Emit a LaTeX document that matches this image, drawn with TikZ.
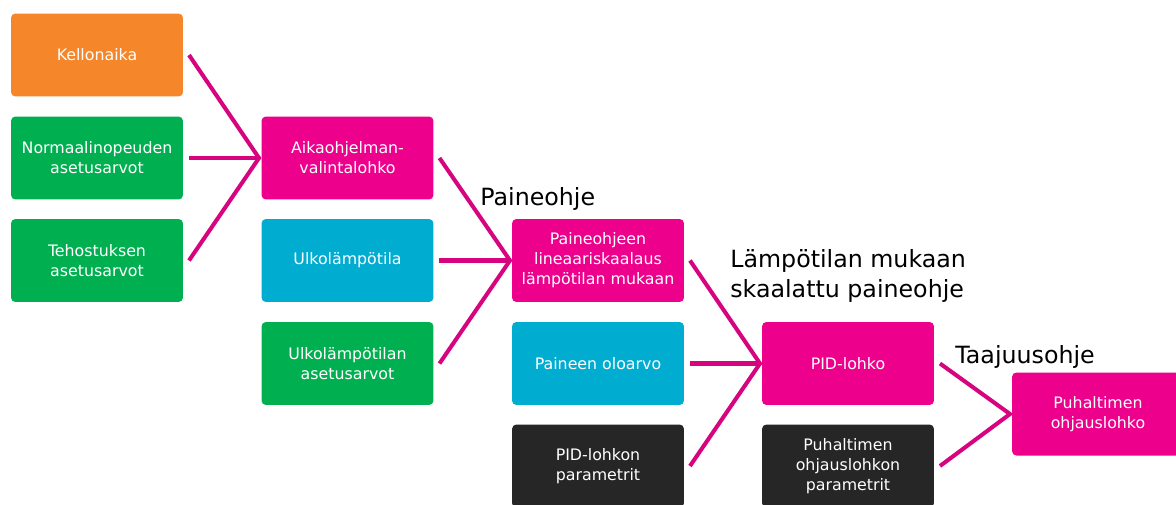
\documentclass[tikz,border=0pt]{standalone}
\usepackage{fontspec}
\setmainfont{DejaVu Sans}
\definecolor{kello}{HTML}{F5862A}
\definecolor{vihrea}{HTML}{00B050}
\definecolor{magenta}{HTML}{EC008C}
\definecolor{syaani}{HTML}{00ACD0}
\definecolor{tumma}{HTML}{262626}
\definecolor{viiva}{HTML}{D6047F}
\tikzset{
  lohko/.style={rounded corners=2.5pt, minimum width=3.44cm, minimum height=1.66cm,
    inner sep=0pt, outer xsep=0.12cm, align=center, text=white,
    font=\fontsize{9}{11.4}\selectfont},
  ohje/.style={anchor=base west, inner sep=0pt, align=left,
    font=\fontsize{13.5}{17}\selectfont},
  yhteys/.style={viiva, line width=2.3pt}
}
\begin{document}
\begin{tikzpicture}[x=0.02cm, y=-0.02cm]
  \useasboundingbox (0,0) rectangle (1176,504);

  % Sarake 1
  \node[lohko, fill=kello] (kello) at (97,55) {Kellonaika};
  \node[lohko, fill=vihrea] (normaali) at (97,158) {Normaalinopeuden\\asetusarvot};
  \node[lohko, fill=vihrea] (tehostus) at (97,260.5) {Tehostuksen\\asetusarvot};

  % Sarake 2
  \node[lohko, fill=magenta] (aika) at (347.5,158) {Aikaohjelman-\\valintalohko};
  \node[lohko, fill=syaani] (ulko) at (347.5,260.5) {Ulkolämpötila};
  \node[lohko, fill=vihrea] (ulkoaset) at (347.5,363.5) {Ulkolämpötilan\\asetusarvot};

  % Sarake 3
  \node[lohko, fill=magenta] (skaalaus) at (598,260.5) {Paineohjeen\\lineaariskaalaus\\lämpötilan mukaan};
  \node[lohko, fill=syaani] (oloarvo) at (598,363.5) {Paineen oloarvo};
  \node[lohko, fill=tumma] (pidpar) at (598,466) {PID-lohkon\\parametrit};

  % Sarake 4
  \node[lohko, fill=magenta] (pid) at (848,363.5) {PID-lohko};
  \node[lohko, fill=tumma] (puhpar) at (848,466) {Puhaltimen\\ohjauslohkon\\parametrit};

  % Sarake 5
  \node[lohko, fill=magenta] (puhallin) at (1098,414) {Puhaltimen\\ohjauslohko};

  % Yhtymakohdat
  \coordinate (y1) at (259,158);
  \coordinate (y2) at (510,260.5);
  \coordinate (y3) at (760,363.5);
  \coordinate (y4) at (1010,414);

  \draw[yhteys] (kello.east) -- (y1) -- (tehostus.east);
  \draw[yhteys] (normaali.east) -- (y1);
  \draw[yhteys] (aika.east) -- (y2) -- (ulkoaset.east);
  \draw[yhteys] (ulko.east) -- (y2);
  \draw[yhteys] (skaalaus.east) -- (y3) -- (pidpar.east);
  \draw[yhteys] (oloarvo.east) -- (y3);
  \draw[yhteys] (pid.east) -- (y4) -- (puhpar.east);

  % Ohjeet
  \node[ohje] (paineohje) at (480,205) {Paineohje};
  \node[ohje] (skaalattu) at (730,297) {Lämpötilan mukaan\\skaalattu paineohje};
  \node[ohje] (taajuus) at (955,363) {Taajuusohje};
\end{tikzpicture}
\end{document}
